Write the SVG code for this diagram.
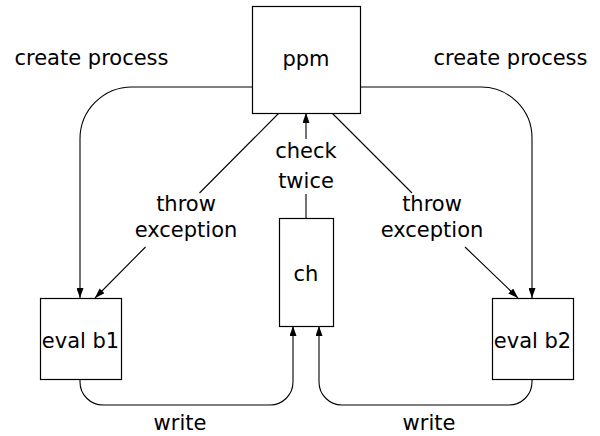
<svg xmlns="http://www.w3.org/2000/svg" width="600" height="436" viewBox="0 0 600 436">
<defs>
<marker id="ah" viewBox="0 0 10 7" refX="10" refY="3.5" markerWidth="10" markerHeight="7" markerUnits="userSpaceOnUse" orient="auto">
<path d="M0,0 L10,3.5 L0,7 Z" fill="#000"/>
</marker>
<style>
.box{fill:#fff;stroke:#000;stroke-width:1.2}
.lbl{font-family:"DejaVu Sans",sans-serif;font-size:21px;fill:#000;text-anchor:middle}
.edge{fill:none;stroke:#000;stroke-width:1.1}
</style>
</defs>
<rect width="600" height="436" fill="#fff"/>
<g id="connectors">
<path class="edge" d="M252,87 H132 A52,52 0 0 0 80,139 V298" marker-end="url(#ah)"/>
<path class="edge" d="M360,87 H481 A51,51 0 0 1 532,138 V298" marker-end="url(#ah)"/>
<path class="edge" d="M279,113 L199.5,193 M145.5,247 L95,298" marker-end="url(#ah)"/>
<path class="edge" d="M332,113 L412,193 M465,247 L518,298" marker-end="url(#ah)"/>
<path class="edge" d="M306,218 V194 M306,139 V113" marker-end="url(#ah)"/>
<path class="edge" d="M80,379 V382 A23,23 0 0 0 103,405 H270 A23,23 0 0 0 293,382 V326" marker-end="url(#ah)"/>
<path class="edge" d="M532,379 V382 A23,23 0 0 1 509,405 H342 A23,23 0 0 1 319,382 V326" marker-end="url(#ah)"/>
<text class="lbl" x="91.5" y="65">create process</text>
<text class="lbl" x="510.5" y="65">create process</text>
<text class="lbl" x="186" y="211">throw</text>
<text class="lbl" x="186" y="237">exception</text>
<text class="lbl" x="432" y="211">throw</text>
<text class="lbl" x="432" y="237">exception</text>
<text class="lbl" x="306" y="158">check</text>
<text class="lbl" x="306" y="188">twice</text>
<text class="lbl" x="180" y="430">write</text>
<text class="lbl" x="429" y="430">write</text>
</g>
<g id="ppm">
<rect class="box" x="252.5" y="6.5" width="108" height="107"/>
<text class="lbl" x="306" y="66">ppm</text>
</g>
<g id="eval_b1">
<rect class="box" x="40.5" y="298.5" width="81" height="81"/>
<text class="lbl" x="80.5" y="348">eval b1</text>
</g>
<g id="eval_b2">
<rect class="box" x="492.5" y="298.5" width="81" height="81"/>
<text class="lbl" x="532.5" y="348">eval b2</text>
</g>
<g id="ch">
<rect class="box" x="279.5" y="218.5" width="54" height="108"/>
<text class="lbl" x="306" y="281">ch</text>
</g>
</svg>
